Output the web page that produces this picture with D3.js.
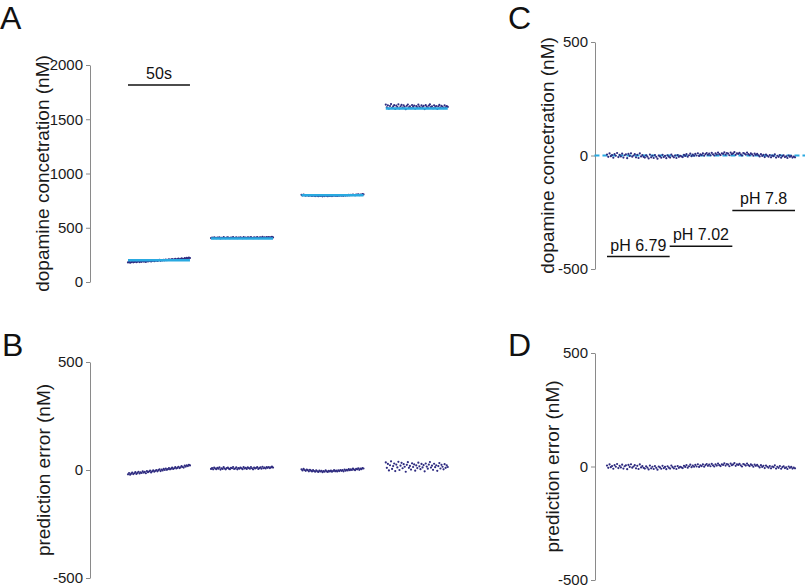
<!DOCTYPE html>
<html>
<head>
<meta charset="utf-8">
<script src="https://cdn.jsdelivr.net/npm/d3@7"></script>
<style>
  body { margin: 0; background: #fff; }
  text { font-family: "Liberation Sans", Arial, Helvetica, sans-serif; }
</style>
</head>
<body>
<div class="canvas"></div>
<script>
// ---- data ----
const segStarts = [0, 67, 140, 208];      // s, start of each step in A/B
const segDuration = 50;                   // s
const trueConc = [200, 400, 800, 1600];   // nM, light blue lines in A

// prediction error per step (nM), panel B; panel A = true + error
const errSeg1 = [-20,-14,-22,-17,-12,-19,-15,-10,-18,-13,-8,-16,-11,-14,-6,-12,-9,-15,-5,-10,-7,-3,-11,-6,-2,-8,-4,0,-6,-1,3,-5,2,-2,5,0,7,1,4,9,3,6,11,5,8,13,7,10,15,9,12,18,14,11,20,16,22,18,24,21];
const errSeg2 = [5,9,3,11,7,4,10,6,12,2,8,5,13,7,3,9,11,6,4,10,8,14,5,7,12,3,9,6,11,8,4,13,7,10,5,12,9,6,14,8,3,11,7,10,13,5,9,12,6,15,8,11,7,13,10,14,9,12,16,11];
const errSeg3 = [3,-2,5,0,-4,2,-1,-6,1,-3,-7,-1,-5,-8,-2,-6,-9,-3,-7,-4,-10,-5,-8,-2,-6,-9,-4,-7,-3,-8,-5,-1,-6,-3,-7,-2,-5,0,-4,-1,-6,2,-3,1,-2,4,-1,3,0,6,2,-1,5,3,8,1,6,4,9,7];
const errSeg4 = [35,10,28,-2,22,40,5,18,30,-5,25,12,38,0,20,33,8,27,15,-8,24,36,10,19,2,31,14,26,-3,21,9,34,17,4,28,12,23,-6,30,16,6,25,37,11,20,1,29,13,22,-4,18,32,7,24,15,3,27,10,21,14];
const errSegs = [errSeg1, errSeg2, errSeg3, errSeg4];

// pH run (150 s, true concentration 0), panels C and D
const errPH = [4,-6,9,-3,2,-10,6,-1,11,-7,3,-4,8,-9,1,5,-12,7,-2,10,-5,0,6,-8,3,-11,9,-4,2,-6,
  -9,1,-5,-13,4,-8,-1,-11,2,-6,-14,0,-4,-10,3,-7,-2,-12,1,-5,-9,4,-3,-8,0,-11,2,-6,-1,-4,
  -7,3,-2,6,-5,1,8,-3,4,-1,7,0,10,-2,5,2,9,-1,6,11,3,8,1,12,5,0,9,4,13,6,
  2,10,7,14,4,11,8,1,13,6,9,15,3,10,7,12,5,0,11,8,4,13,6,2,9,5,-1,8,3,7,
  1,-4,6,-2,3,-7,4,-1,-5,2,-8,0,-3,5,-9,-1,-6,2,-10,-3,1,-7,-4,-11,0,-6,-2,-9,-5,-8];
const phDuration = 150;
const phLabels = ['pH 6.79', 'pH 7.02', 'pH 7.8'];
const phStarts = [0, 50, 100];
const phLevels = [-445, -400, -242];     // nM, height of the pH bars in C

const ticksConc = [0, 500, 1000, 1500, 2000];
const ticksErr = [-500, 0, 500];

// ---- colours ----
const dark = '#2f2c80';
const light = '#29a9e1';

const svg = d3.select('.canvas').append('svg')
  .attr('width', 805)
  .attr('height', 587);

// x scales (time)
const xAB = d3.scaleLinear().domain([0, 259]).range([128, 449]);
const xCD = d3.scaleLinear().domain([0, 150]).range([607, 795]);

// y scales
const yA = d3.scaleLinear().domain([0, 2000]).range([282, 65]);
const yB = d3.scaleLinear().domain([-500, 500]).range([578, 362]);
const yC = d3.scaleLinear().domain([-500, 500]).range([269, 42]);
const yD = d3.scaleLinear().domain([-500, 500]).range([580, 353]);

// helpers to turn arrays into points
const segPoints = (errs, start, dur, base) =>
  errs.map((e, j) => ({ t: start + j * dur / (errs.length - 1), v: base + e }));

function yAxis(scale, x, ticks, label, labelX) {
  const g = svg.append('g')
    .attr('transform', `translate(${x},0)`)
    .call(d3.axisLeft(scale).tickValues(ticks).tickSize(4).tickSizeOuter(0)
      .tickPadding(3).tickFormat(d => String(d)));
  g.select('.domain').attr('stroke', '#8a8a8a');
  g.selectAll('.tick line').attr('stroke', '#8a8a8a');
  g.selectAll('.tick text')
    .attr('fill', '#1a1a1a')
    .style('font-size', '15px')
    .style('font-family', '"Liberation Sans", Arial, sans-serif');
  const r = scale.range();
  svg.append('text')
    .attr('transform', `translate(${labelX},${(r[0] + r[1]) / 2}) rotate(-90)`)
    .attr('text-anchor', 'middle')
    .attr('dy', '0.35em')
    .attr('fill', '#1a1a1a')
    .style('font-size', '19px')
    .text(label);
}

function panelLetter(txt, x, y) {
  svg.append('text')
    .attr('x', x).attr('y', y)
    .attr('fill', '#111')
    .style('font-size', '32px')
    .text(txt);
}

function dots(pts, x, y) {
  svg.append('g').selectAll('circle')
    .data(pts)
    .enter()
    .append('circle')
      .attr('cx', d => x(d.t))
      .attr('cy', d => y(d.v))
      .attr('r', 1.1)
      .attr('fill', dark);
}

// ---- panel A ----
yAxis(yA, 90, ticksConc, 'dopamine concetration (nM)', 42);
panelLetter('A', 0, 29);

errSegs.forEach((errs, i) => {
  dots(segPoints(errs, segStarts[i], segDuration, trueConc[i]), xAB, yA);
  svg.append('line')
    .attr('x1', xAB(segStarts[i])).attr('x2', xAB(segStarts[i] + segDuration))
    .attr('y1', yA(trueConc[i])).attr('y2', yA(trueConc[i]))
    .attr('stroke', light)
    .attr('stroke-width', 2.5);
});

// 50 s scale bar
svg.append('line')
  .attr('x1', xAB(0)).attr('x2', xAB(50))
  .attr('y1', yA(1815)).attr('y2', yA(1815))
  .attr('stroke', '#111').attr('stroke-width', 1.5);
svg.append('text')
  .attr('x', xAB(25)).attr('y', yA(1815) - 6)
  .attr('text-anchor', 'middle')
  .attr('fill', '#111')
  .style('font-size', '16px')
  .text('50s');

// ---- panel B ----
yAxis(yB, 90, ticksErr, 'prediction error (nM)', 43);
panelLetter('B', 2, 356);
errSegs.forEach((errs, i) => {
  dots(segPoints(errs, segStarts[i], segDuration, 0), xAB, yB);
});

// ---- panel C ----
yAxis(yC, 595, ticksErr, 'dopamine concetration (nM)', 547);
panelLetter('C', 508, 29);

svg.append('line')
  .attr('x1', xCD(-10)).attr('x2', xCD(165))
  .attr('y1', yC(0)).attr('y2', yC(0))
  .attr('stroke', light)
  .attr('stroke-width', 2)
  .attr('stroke-dasharray', '5,3');
dots(segPoints(errPH, 0, phDuration, 0), xCD, yC);

phLabels.forEach((lab, i) => {
  svg.append('line')
    .attr('x1', xCD(phStarts[i])).attr('x2', xCD(phStarts[i] + 50))
    .attr('y1', yC(phLevels[i])).attr('y2', yC(phLevels[i]))
    .attr('stroke', '#111').attr('stroke-width', 1.5);
  svg.append('text')
    .attr('x', xCD(phStarts[i] + 25)).attr('y', yC(phLevels[i]) - 6)
    .attr('text-anchor', 'middle')
    .attr('fill', '#111')
    .style('font-size', '16px')
    .text(lab);
});

// ---- panel D ----
yAxis(yD, 595, ticksErr, 'prediction error (nM)', 552);
panelLetter('D', 508, 356);
dots(segPoints(errPH, 0, phDuration, 0), xCD, yD);
</script>
</body>
</html>
